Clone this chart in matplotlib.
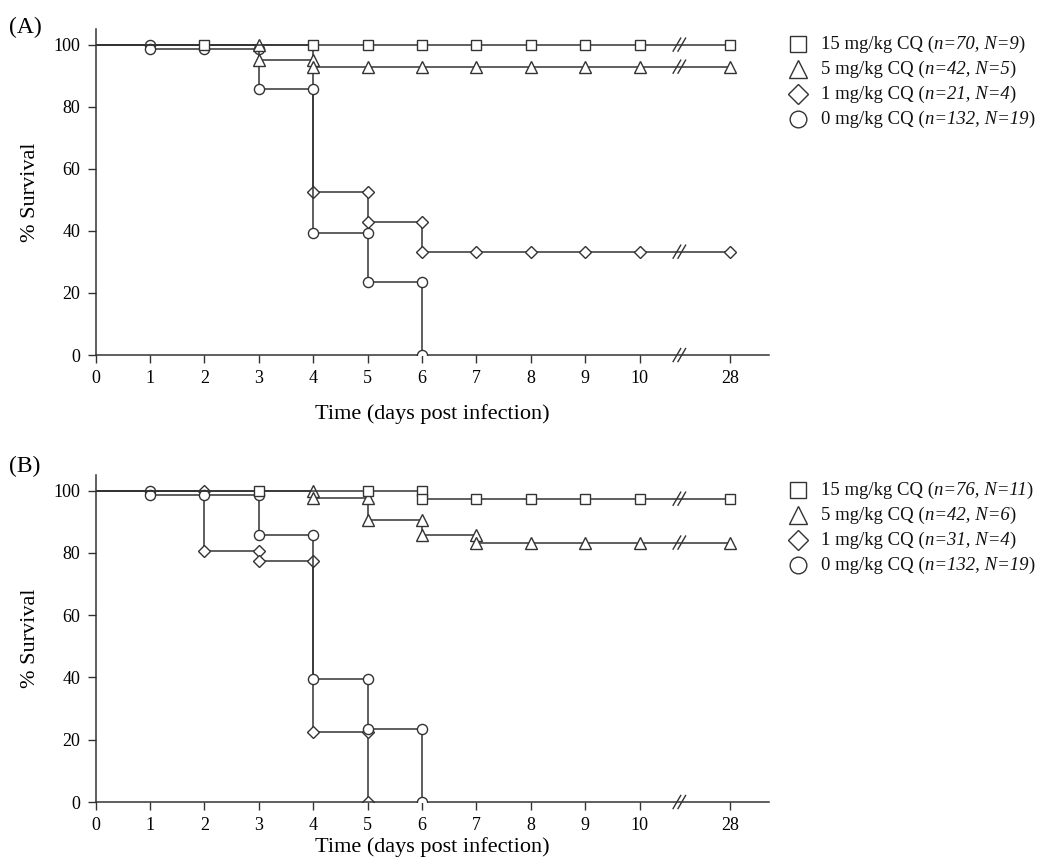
import matplotlib
matplotlib.use("Agg")
from matplotlib import pyplot as plt
from matplotlib.lines import Line2D

plt.rcParams['font.family'] = ['Liberation Serif', 'DejaVu Serif']

# tick days, 28 sits after the axis break
tick_days = [0, 1, 2, 3, 4, 5, 6, 7, 8, 9, 10, 28]

# ---- panel A ----
a15_days = [2, 4, 5, 6, 7, 8, 9, 10, 28]
a15_surv = [100, 100, 100, 100, 100, 100, 100, 100, 100]
a5_days = [3, 3, 4, 4, 5, 6, 7, 8, 9, 10, 28]
a5_surv = [100, 95.2, 95.2, 92.9, 92.9, 92.9, 92.9, 92.9, 92.9, 92.9, 92.9]
a1_days = [4, 5, 5, 6, 6, 7, 8, 9, 10, 28]
a1_surv = [52.4, 52.4, 42.9, 42.9, 33.3, 33.3, 33.3, 33.3, 33.3, 33.3]
a0_days = [1, 1, 2, 3, 3, 4, 4, 5, 5, 6, 6]
a0_surv = [100, 98.5, 98.5, 98.5, 85.6, 85.6, 39.4, 39.4, 23.5, 23.5, 0]
a_doses = ["15 mg/kg CQ", "5 mg/kg CQ", "1 mg/kg CQ", "0 mg/kg CQ"]
a_counts = ["n=70, N=9", "n=42, N=5", "n=21, N=4", "n=132, N=19"]

# ---- panel B ----
b15_days = [3, 5, 6, 6, 7, 8, 9, 10, 28]
b15_surv = [100, 100, 100, 97.4, 97.4, 97.4, 97.4, 97.4, 97.4]
b5_days = [4, 4, 5, 5, 6, 6, 7, 7, 8, 9, 10, 28]
b5_surv = [100, 97.6, 97.6, 90.5, 90.5, 85.7, 85.7, 83.3, 83.3, 83.3, 83.3, 83.3]
b1_days = [2, 2, 3, 3, 4, 4, 5, 5]
b1_surv = [100, 80.6, 80.6, 77.4, 77.4, 22.6, 22.6, 0]
b0_days = [1, 1, 2, 3, 3, 4, 4, 5, 5, 6, 6]
b0_surv = [100, 98.5, 98.5, 98.5, 85.6, 85.6, 39.4, 39.4, 23.5, 23.5, 0]
b_doses = ["15 mg/kg CQ", "5 mg/kg CQ", "1 mg/kg CQ", "0 mg/kg CQ"]
b_counts = ["n=76, N=11", "n=42, N=6", "n=31, N=4", "n=132, N=19"]

INK = '#333333'
BREAK_X = 10.73
POS_28 = 11.67
MARKERS = ['s', '^', 'D', 'o']
MSIZE = {'s': 6.8, '^': 8, 'D': 5.8, 'o': 7.3}
LEG_MSIZE = {'s': 11.5, '^': 13, 'D': 10, 'o': 12}


def xpos(d):
    return POS_28 if d == 28 else d


def draw_break(ax, y):
    for off in (-0.045, 0.045):
        ax.plot([BREAK_X + off - 0.07, BREAK_X + off + 0.07], [y - 2.1, y + 2.1],
                color=INK, lw=1.0, clip_on=False, zorder=6)


def draw_series(ax, days, surv, marker, z):
    px = [xpos(d) for d in days]
    # step path: hold the previous value until the next day
    xs, ys = [0], [100]
    for x, y in zip(px, surv):
        if x != xs[-1] and y != ys[-1]:
            xs.append(x)
            ys.append(ys[-1])
        xs.append(x)
        ys.append(y)
    ax.plot(xs, ys, color=INK, lw=1.1, zorder=z)
    ax.plot(px, surv, ls='none', marker=marker, ms=MSIZE[marker],
            mfc='white', mec=INK, mew=1.0, zorder=z + 0.5)
    if days[-1] == 28:
        draw_break(ax, surv[-1])


def setup_axes(ax, xpad):
    ax.set_xlim(0, 12.37)
    ax.set_ylim(0, 105)
    ax.spines['top'].set_visible(False)
    ax.spines['right'].set_visible(False)
    for s in ('left', 'bottom'):
        ax.spines[s].set_color(INK)
        ax.spines[s].set_linewidth(1.1)
    ax.set_xticks([xpos(d) for d in tick_days])
    ax.set_xticklabels([str(d) for d in tick_days])
    ax.set_yticks([0, 20, 40, 60, 80, 100])
    ax.tick_params(direction='out', length=6, width=1.0, color=INK,
                   labelsize=13, pad=5)
    ax.set_xlabel('Time (days post infection)', fontsize=16, labelpad=xpad)
    ax.set_ylabel('% Survival', fontsize=16, labelpad=10)
    draw_break(ax, 0)


def draw_legend(doses, counts, top_px):
    renderer = fig.canvas.get_renderer()
    for i, (m, dose, cnt) in enumerate(zip(MARKERS, doses, counts)):
        yf = 1 - (top_px + i * 25) / 866
        fig.add_artist(Line2D([798 / 1040], [yf], transform=fig.transFigure,
                              ls='none', marker=m, ms=LEG_MSIZE[m],
                              mfc='white', mec=INK, mew=1.0))
        x = 821 / 1040
        for txt, style in ((dose + ' (', 'normal'), (cnt, 'italic'), (')', 'normal')):
            t = fig.text(x, yf, txt, fontsize=13.5, style=style, va='center',
                         ha='left', color='#111111')
            bb = t.get_window_extent(renderer)
            x += bb.width / 1040


def draw_panel(ax, series, xpad):
    zs = [5, 4, 2, 3]
    for (days, surv), m, z in zip(series, MARKERS, zs):
        draw_series(ax, days, surv, m, z)
    setup_axes(ax, xpad)


fig = plt.figure(figsize=(10.4, 8.66), dpi=100)
ax_a = fig.add_axes([0.092, 0.590, 0.647, 0.3764])
ax_b = fig.add_axes([0.092, 0.0739, 0.647, 0.3776])

draw_panel(ax_a, [(a15_days, a15_surv), (a5_days, a5_surv), (a1_days, a1_surv),
                  (a0_days, a0_surv)], 12)
draw_panel(ax_b, [(b15_days, b15_surv), (b5_days, b5_surv), (b1_days, b1_surv),
                  (b0_days, b0_surv)], 2)
draw_legend(a_doses, a_counts, 44)
draw_legend(b_doses, b_counts, 490)

fig.text(0.009, 1 - 27 / 866, '(A)', fontsize=17, va='center', ha='left')
fig.text(0.009, 1 - 466 / 866, '(B)', fontsize=17, va='center', ha='left')

fig.savefig('out.png', dpi=100)
